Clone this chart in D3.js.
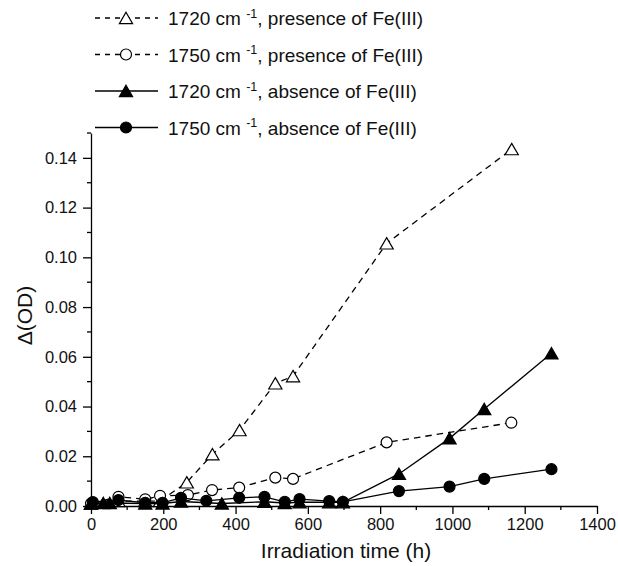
<!DOCTYPE html>
<html>
<head>
<meta charset="utf-8">
<script src="https://cdn.jsdelivr.net/npm/d3@7/dist/d3.min.js"></script>
<style>
  body { margin: 0; background: #fff; }
  text { font-family: "Liberation Sans", Arial, sans-serif; fill: #111; }
</style>
</head>
<body>
<svg id="chart" width="618" height="566"></svg>
<script>
// Irradiation time (h) and Δ(OD) for each band / condition
const timePresence1720 = [0, 76, 150, 191, 265, 336, 411, 510, 559, 818, 1164];
const odPresence1720   = [0.001, 0.002, 0.002, 0.002, 0.0095, 0.0208, 0.0305, 0.0493, 0.0522, 0.1056, 0.1435];

const timePresence1750 = [0, 76, 150, 191, 268, 335, 410, 510, 559, 818, 1163];
const odPresence1750   = [0.001, 0.0037, 0.0027, 0.0041, 0.0044, 0.0064, 0.0074, 0.0114, 0.0109, 0.0256, 0.0335];

const timeAbsence1720 = [0, 34, 52, 150, 198, 249, 362, 480, 536, 577, 659, 697, 852, 992, 1088, 1274];
const odAbsence1720   = [0.001, 0.0012, 0.0012, 0.001, 0.001, 0.0018, 0.001, 0.0017, 0.0012, 0.0015, 0.0015, 0.0015, 0.0129, 0.0272, 0.039, 0.0614];

const timeAbsence1750 = [5, 76, 150, 198, 249, 319, 410, 480, 536, 577, 659, 697, 852, 992, 1088, 1274];
const odAbsence1750   = [0.0016, 0.0024, 0.0013, 0.0013, 0.0033, 0.0021, 0.0033, 0.0037, 0.0017, 0.0028, 0.002, 0.0017, 0.006, 0.0078, 0.0109, 0.0148];

const seriesBands      = ["1720", "1750", "1720", "1750"];
const seriesConditions = ["presence of Fe(III)", "presence of Fe(III)", "absence of Fe(III)", "absence of Fe(III)"];

const xTickValues = [0, 200, 400, 600, 800, 1000, 1200, 1400];
const xMinorValues = [100, 300, 500, 700, 900, 1100, 1300];
const yTickValues = [0, 0.02, 0.04, 0.06, 0.08, 0.10, 0.12, 0.14];
const yMinorValues = [0.01, 0.03, 0.05, 0.07, 0.09, 0.11, 0.13, 0.15];

const xTitle = "Irradiation time (h)";
const yTitle = "Δ(OD)";

const zip = (ts, vs) => ts.map((t, i) => ({ t, v: vs[i] }));
const series = [
  { pts: zip(timePresence1720, odPresence1720), shape: "triangle", filled: false, dashed: true },
  { pts: zip(timePresence1750, odPresence1750), shape: "circle",   filled: false, dashed: true },
  { pts: zip(timeAbsence1720,  odAbsence1720),  shape: "triangle", filled: true,  dashed: false },
  { pts: zip(timeAbsence1750,  odAbsence1750),  shape: "circle",   filled: true,  dashed: false }
];

const svg = d3.select("#chart");
const x = d3.scaleLinear().domain([0, 1400]).range([91, 597]);
const y = d3.scaleLinear().domain([0, 0.15]).range([506, 133]);

const DASH = "6.5,5";
const trianglePath = "M0,-5.8L6.6,5.6L-6.6,5.6Z";

function drawMarker(g, shape, filled) {
  const fill = filled ? "#000" : "#fff";
  if (shape === "circle") {
    g.append("circle").attr("r", 5.5).attr("fill", fill)
      .attr("stroke", "#000").attr("stroke-width", 1.2);
  } else {
    g.append("path").attr("d", trianglePath).attr("fill", fill)
      .attr("stroke", "#000").attr("stroke-width", 1.2).attr("stroke-linejoin", "miter");
  }
}

// Axes: left and bottom only, major + minor ticks pointing outward
const xAxis = svg.append("g").attr("transform", `translate(0,${y(0)})`)
  .call(d3.axisBottom(x).tickValues(xTickValues).tickFormat(d3.format("d"))
    .tickSize(8).tickSizeOuter(0).tickPadding(4));
xAxis.append("g").selectAll("line").data(xMinorValues).join("line")
  .attr("x1", d => x(d)).attr("x2", d => x(d)).attr("y1", 0).attr("y2", 4)
  .attr("stroke", "#000").attr("stroke-width", 1.3);

const yAxis = svg.append("g").attr("transform", `translate(${x(0)},0)`)
  .call(d3.axisLeft(y).tickValues(yTickValues).tickFormat(d3.format(".2f"))
    .tickSize(8).tickSizeOuter(0).tickPadding(6));
yAxis.append("g").selectAll("line").data(yMinorValues).join("line")
  .attr("x1", 0).attr("x2", -4).attr("y1", d => y(d)).attr("y2", d => y(d))
  .attr("stroke", "#000").attr("stroke-width", 1.3);

[xAxis, yAxis].forEach(a => {
  a.select(".domain").attr("stroke", "#000").attr("stroke-width", 1.3);
  a.selectAll(".tick line").attr("stroke", "#000").attr("stroke-width", 1.3);
  a.selectAll(".tick text").attr("font-size", 16.5).attr("fill", "#111")
    .attr("font-family", '"Liberation Sans", Arial, sans-serif');
});

svg.append("text").attr("x", (x(0) + x(1400)) / 2 + 2).attr("y", 558)
  .attr("text-anchor", "middle").attr("font-size", 21).text(xTitle);
svg.append("text").attr("transform", `translate(32,${(y(0) + y(0.15)) / 2 - 4}) rotate(-90)`)
  .attr("text-anchor", "middle").attr("font-size", 21).text(yTitle);

// Series lines and markers
const line = d3.line().x(d => x(d.t)).y(d => y(d.v));
series.forEach(s => {
  svg.append("path").datum(s.pts).attr("d", line).attr("fill", "none")
    .attr("stroke", "#000").attr("stroke-width", 1.3)
    .attr("stroke-dasharray", s.dashed ? DASH : null);
  svg.append("g").selectAll("g").data(s.pts).join("g")
    .attr("transform", d => `translate(${x(d.t)},${y(d.v)})`)
    .each(function () { drawMarker(d3.select(this), s.shape, s.filled); });
});

// Legend
const legendRowY = d3.scaleLinear().domain([0, 3]).range([18, 127.5]);
series.forEach((s, i) => {
  const g = svg.append("g").attr("transform", `translate(0,${legendRowY(i)})`);
  g.append("line").attr("x1", 95).attr("x2", 158).attr("y1", 0).attr("y2", 0)
    .attr("stroke", "#000").attr("stroke-width", 1.3)
    .attr("stroke-dasharray", s.dashed ? "5,5" : null);
  const m = g.append("g").attr("transform", "translate(126,0)");
  drawMarker(m, s.shape, s.filled);
  const t = g.append("text").attr("x", 168).attr("y", 7).attr("font-size", 19);
  t.append("tspan").text(seriesBands[i] + " cm ");
  t.append("tspan").attr("font-size", 12.5).attr("dy", -7.5).text("-1");
  t.append("tspan").attr("dy", 7.5).text(", " + seriesConditions[i]);
});
</script>
</body>
</html>
